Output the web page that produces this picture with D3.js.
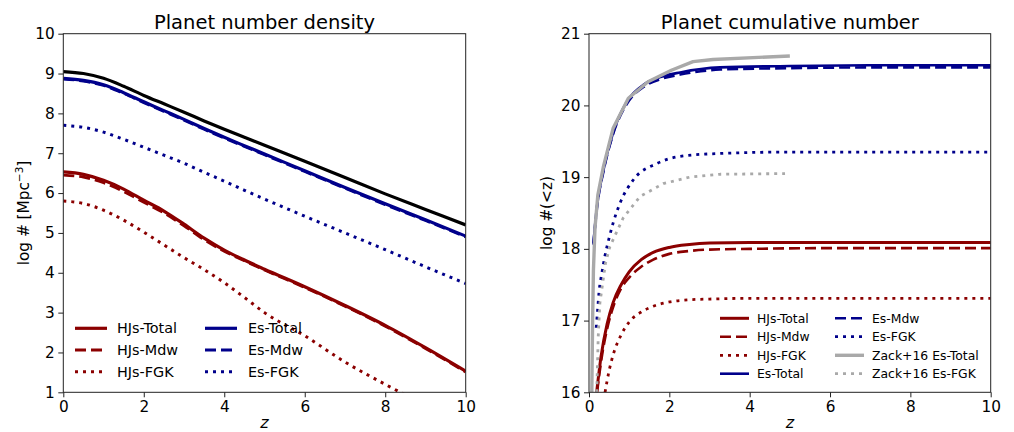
<!DOCTYPE html>
<html>
<head>
<meta charset="utf-8">
<script src="https://cdn.jsdelivr.net/npm/d3@7"></script>
<style>
  body { margin: 0; background: #fff; }
  text { font-family: 'DejaVu Sans', sans-serif; fill: #000; }
</style>
</head>
<body>
<svg id="chart" width="1014" height="432"></svg>
<script>
// ---------- Planet number density, log #[Mpc^-3] vs redshift ----------
const densityZ        = [0, 0.5, 1, 1.5, 2, 2.5, 3, 3.5, 4, 4.5, 5, 6, 7, 8, 9, 10];
const densityAll      = [9.05, 9.00, 8.88, 8.68, 8.45, 8.24, 8.03, 7.81, 7.60, 7.40, 7.20, 6.80, 6.39, 5.98, 5.59, 5.20];
const densityHJsTotal = [6.53, 6.47, 6.32, 6.10, 5.82, 5.55, 5.22, 4.87, 4.57, 4.32, 4.09, 3.65, 3.18, 2.68, 2.12, 1.53];
const densityHJsMdw   = [6.45, 6.40, 6.26, 6.04, 5.77, 5.50, 5.18, 4.83, 4.54, 4.30, 4.07, 3.63, 3.16, 2.66, 2.10, 1.51];
const densityHJsFGK   = [5.80, 5.74, 5.57, 5.32, 5.02, 4.70, 4.38, 4.08, 3.75, 3.38, 3.00, 2.42, 1.76, 1.20, 0.68, 0.20];
const densityEsTotal  = [8.88, 8.83, 8.72, 8.52, 8.29, 8.07, 7.85, 7.62, 7.40, 7.19, 6.98, 6.56, 6.14, 5.73, 5.33, 4.92];
const densityEsMdw    = [8.86, 8.81, 8.70, 8.50, 8.27, 8.05, 7.83, 7.60, 7.38, 7.17, 6.96, 6.54, 6.12, 5.71, 5.31, 4.90];
const densityEsFGK    = [7.70, 7.65, 7.53, 7.35, 7.15, 6.95, 6.75, 6.52, 6.30, 6.07, 5.85, 5.42, 5.00, 4.58, 4.15, 3.73];

// ---------- Planet cumulative number, log #(<z) ----------
const cumHJsTotalZ = [0.19, 0.3, 0.45, 0.6, 0.8, 1.0, 1.3, 1.6, 2.0, 2.5, 3.0, 4.0, 6.0, 8.0, 10.0];
const cumHJsTotal  = [16.0, 16.5, 16.95, 17.25, 17.5, 17.68, 17.85, 17.95, 18.02, 18.06, 18.08, 18.09, 18.09, 18.09, 18.09];
const cumHJsMdwZ   = [0.2, 0.32, 0.47, 0.62, 0.8, 1.0, 1.3, 1.6, 2.0, 2.5, 3.0, 4.0, 6.0, 8.0, 10.0];
const cumHJsMdw    = [16.0, 16.5, 16.93, 17.22, 17.45, 17.6, 17.75, 17.85, 17.93, 17.97, 17.99, 18.0, 18.01, 18.01, 18.01];
const cumHJsFGKZ   = [0.4, 0.5, 0.6, 0.8, 1.0, 1.3, 1.6, 2.0, 2.5, 3.0, 4.0, 6.0, 8.0, 10.0];
const cumHJsFGK    = [16.0, 16.3, 16.52, 16.8, 16.98, 17.12, 17.2, 17.26, 17.29, 17.3, 17.31, 17.31, 17.31, 17.31];
const cumEsTotalZ  = [0.11, 0.2, 0.36, 0.6, 0.94, 1.39, 1.8, 2.27, 3.26, 5.0, 7.0, 10.0];
const cumEsTotal   = [18.08, 18.6, 19.1, 19.62, 20.05, 20.3, 20.4, 20.46, 20.53, 20.55, 20.56, 20.56];
const cumEsMdwZ    = [0.11, 0.2, 0.36, 0.6, 0.94, 1.39, 1.8, 2.27, 3.26, 5.0, 7.0, 10.0];
const cumEsMdw     = [18.06, 18.58, 19.08, 19.6, 20.02, 20.27, 20.37, 20.43, 20.5, 20.52, 20.53, 20.53];
const cumEsFGKZ    = [0.18, 0.22, 0.25, 0.32, 0.4, 0.5, 0.6, 0.76, 1.1, 1.69, 2.27, 3.26, 5.0, 7.0, 10.0];
const cumEsFGK     = [16.9, 17.19, 17.4, 17.66, 17.91, 18.15, 18.36, 18.62, 18.96, 19.19, 19.29, 19.33, 19.35, 19.35, 19.35];
const zackEsTotalZ = [0.07, 0.09, 0.11, 0.15, 0.22, 0.36, 0.6, 0.98, 1.47, 2.05, 2.59, 3.09, 5.0];
const zackEsTotal  = [16.0, 17.0, 17.7, 18.3, 18.75, 19.15, 19.68, 20.1, 20.33, 20.49, 20.61, 20.64, 20.69];
const zackEsFGKZ   = [0.19, 0.2, 0.23, 0.27, 0.41, 0.52, 0.65, 0.85, 1.27, 1.85, 2.51, 3.26, 4.88];
const zackEsFGK    = [16.0, 16.15, 16.78, 17.24, 17.8, 18.03, 18.19, 18.43, 18.73, 18.91, 19.0, 19.04, 19.05];

// ---------- tick values ----------
const xTicks = [0, 2, 4, 6, 8, 10];
const densityTicks = [1, 2, 3, 4, 5, 6, 7, 8, 9, 10];
const cumTicks = [16, 17, 18, 19, 20, 21];

// ---------- styles ----------
const RED = "#8b0000", BLUE = "#00008b", GREY = "#a9a9a9";
const SOLID = null, DASHED = "11,5", DOTTED = "3,5";

const svg = d3.select("#chart");
svg.append("rect").attr("width", 1014).attr("height", 432).attr("fill", "#fff");

function zip(zs, vs) { return zs.map((z, i) => ({ z, v: vs[i] })); }

function panel(opts) {
  const { id, x0, x1, yDomain, yTicks, title, ylabelParts, ylabelX, series, legend } = opts;
  const top = 33.7, bottom = 392.3;
  const x = d3.scaleLinear().domain([0, 10]).range([x0, x1]);
  const y = d3.scaleLinear().domain(yDomain).range([bottom, top]);
  const g = svg.append("g");

  g.append("clipPath").attr("id", "clip-" + id)
    .append("rect").attr("x", x0).attr("y", top).attr("width", x1 - x0).attr("height", bottom - top);

  const lines = g.append("g").attr("clip-path", `url(#clip-${id})`);
  series.forEach(s => {
    const line = d3.line().x(d => x(d.z)).y(d => y(d.v))
      .curve(s.linear ? d3.curveLinear : d3.curveMonotoneX);
    lines.append("path")
      .datum(zip(s.z, s.v))
      .attr("d", line)
      .attr("fill", "none")
      .attr("stroke", s.color)
      .attr("stroke-width", s.width)
      .attr("stroke-dasharray", s.dash)
      .attr("stroke-linejoin", "round");
  });

  // axes
  const xAxis = d3.axisBottom(x).tickValues(xTicks).tickSize(5).tickPadding(3.5).tickFormat(d3.format("d"));
  const yAxis = d3.axisLeft(y).tickValues(yTicks).tickSize(5).tickPadding(3.5).tickFormat(d3.format("d"));
  const gx = g.append("g").attr("transform", `translate(0,${bottom})`).call(xAxis);
  const gy = g.append("g").attr("transform", `translate(${x0},0)`).call(yAxis);
  [gx, gy].forEach(a => {
    a.select(".domain").remove();
    a.selectAll(".tick line").attr("stroke", "#222").attr("stroke-width", 1);
    a.selectAll(".tick text").attr("font-size", 15.3).attr("font-family", "'DejaVu Sans', sans-serif").attr("fill", "#000");
  });

  // frame
  g.append("rect").attr("x", x0).attr("y", top).attr("width", x1 - x0).attr("height", bottom - top)
    .attr("fill", "none").attr("stroke", "#222").attr("stroke-width", 1);

  // title
  g.append("text").attr("x", (x0 + x1) / 2).attr("y", 29).attr("text-anchor", "middle")
    .attr("font-size", 19.5).text(title);

  // x label
  g.append("text").attr("x", (x0 + x1) / 2).attr("y", 428).attr("text-anchor", "middle")
    .attr("font-size", 16).attr("font-style", "italic").text("z");

  // y label
  const yl = g.append("text")
    .attr("transform", `translate(${ylabelX},${(top + bottom) / 2}) rotate(-90)`)
    .attr("text-anchor", "middle").attr("font-size", 15.3);
  ylabelParts.forEach(p => {
    const t = yl.append("tspan").text(p.text);
    if (p.sup) t.attr("font-size", 10.5).attr("dy", -6);
    if (p.after) t.attr("dy", 6);
  });

  // legend (no frame)
  legend.columns.forEach(col => {
    col.items.forEach((s, i) => {
      const cy = legend.rows[i];
      g.append("line")
        .attr("x1", col.hx).attr("x2", col.hx + legend.handle)
        .attr("y1", cy).attr("y2", cy)
        .attr("stroke", s.color).attr("stroke-width", s.width)
        .attr("stroke-dasharray", s.dash);
      g.append("text").attr("x", col.tx).attr("y", cy + legend.fontSize * 0.36)
        .attr("font-size", legend.fontSize).text(s.name);
    });
  });
}

// ---------- left panel ----------
const dAll   = { name: "", z: densityZ, v: densityAll, color: "#000", width: 3.2, dash: SOLID };
const dHJT   = { name: "HJs-Total", z: densityZ, v: densityHJsTotal, color: RED, width: 3.2, dash: SOLID };
const dHJM   = { name: "HJs-Mdw", z: densityZ, v: densityHJsMdw, color: RED, width: 2.8, dash: DASHED };
const dHJF   = { name: "HJs-FGK", z: densityZ, v: densityHJsFGK, color: RED, width: 3, dash: DOTTED };
const dEsT   = { name: "Es-Total", z: densityZ, v: densityEsTotal, color: BLUE, width: 3.2, dash: SOLID };
const dEsM   = { name: "Es-Mdw", z: densityZ, v: densityEsMdw, color: BLUE, width: 2.8, dash: DASHED };
const dEsF   = { name: "Es-FGK", z: densityZ, v: densityEsFGK, color: BLUE, width: 3, dash: DOTTED };

panel({
  id: "density", x0: 63.3, x1: 465.7, yDomain: [1, 10], yTicks: densityTicks,
  title: "Planet number density",
  ylabelX: 29,
  ylabelParts: [{ text: "log # [Mpc" }, { text: "\u22123", sup: true }, { text: "]", after: true }],
  series: [dAll, dHJT, dHJM, dHJF, dEsT, dEsM, dEsF],
  legend: {
    handle: 32, fontSize: 14.4, rows: [328.3, 350, 371.7],
    columns: [
      { hx: 75, tx: 117, items: [dHJT, dHJM, dHJF] },
      { hx: 205, tx: 248, items: [dEsT, dEsM, dEsF] }
    ]
  }
});

// ---------- right panel ----------
const cHJT = { name: "HJs-Total", z: cumHJsTotalZ, v: cumHJsTotal, color: RED, width: 3, dash: SOLID };
const cHJM = { name: "HJs-Mdw", z: cumHJsMdwZ, v: cumHJsMdw, color: RED, width: 2.6, dash: DASHED };
const cHJF = { name: "HJs-FGK", z: cumHJsFGKZ, v: cumHJsFGK, color: RED, width: 2.8, dash: DOTTED };
const cEsT = { name: "Es-Total", z: cumEsTotalZ, v: cumEsTotal, color: BLUE, width: 2.6, dash: SOLID };
const cEsM = { name: "Es-Mdw", z: cumEsMdwZ, v: cumEsMdw, color: BLUE, width: 2.6, dash: DASHED };
const cEsF = { name: "Es-FGK", z: cumEsFGKZ, v: cumEsFGK, color: BLUE, width: 2.8, dash: DOTTED };
const cZT  = { name: "Zack+16 Es-Total", z: zackEsTotalZ, v: zackEsTotal, color: GREY, width: 3.4, dash: SOLID, linear: true };
const cZF  = { name: "Zack+16 Es-FGK", z: zackEsFGKZ, v: zackEsFGK, color: GREY, width: 2.8, dash: DOTTED, linear: true };

panel({
  id: "cumulative", x0: 589, x1: 990.7, yDomain: [16, 21], yTicks: cumTicks,
  title: "Planet cumulative number",
  ylabelX: 552,
  ylabelParts: [{ text: "log #(<z)" }],
  series: [cHJT, cHJM, cHJF, cEsT, cEsM, cEsF, cZT, cZF],
  legend: {
    handle: 29, fontSize: 12.4, rows: [318.3, 336.7, 355.3, 373.7],
    columns: [
      { hx: 720, tx: 757, items: [cHJT, cHJM, cHJF, cEsT] },
      { hx: 835, tx: 872, items: [cEsM, cEsF, cZT, cZF] }
    ]
  }
});
</script>
</body>
</html>
